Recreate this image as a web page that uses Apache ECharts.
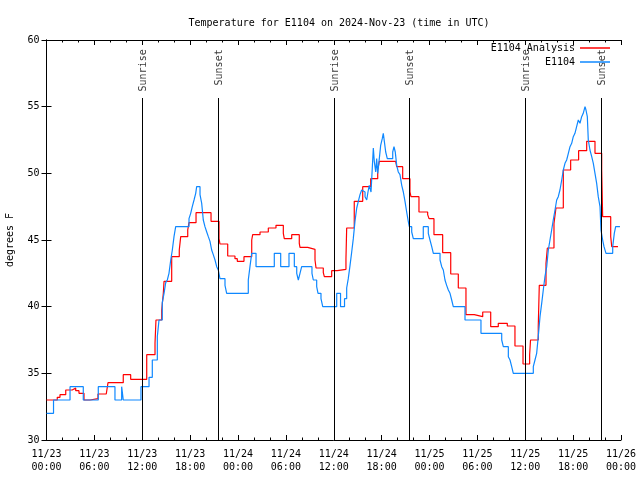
<!DOCTYPE html>
<html><head><meta charset="utf-8">
<script src="https://cdn.jsdelivr.net/npm/echarts@6/dist/echarts.min.js"></script>
<style>html,body{margin:0;padding:0;background:#fff}#c{width:640px;height:480px}</style>
</head><body><div id="c"></div>
<script>
// Hours since 2024-11-23 00:00 UTC and temperatures (degrees F)
const analysisHours = [0,1.35,1.69,2.41,3.23,3.66,4.07,4.70,5.45,6.45,7.49,7.71,9.62,10.55,12.56,13.60,13.72,14.44,14.64,14.73,15.69,16.64,16.82,17.70,17.86,18.74,20.62,21.62,21.74,22.71,23.62,23.91,24.75,25.72,25.84,26.76,27.80,28.76,29.68,29.80,30.73,31.68,31.77,32.74,33.65,33.78,34.69,34.82,35.74,36.44,37.53,37.62,38.57,39.63,40.63,41.51,41.71,43.76,43.89,44.64,45.55,45.68,46.68,47.77,47.94,48.56,49.65,50.66,51.61,52.57,53.61,54.67,55.67,56.62,57.75,58.71,59.72,60.55,60.66,61.63,61.76,62.60,62.77,63.60,63.85,64.77,65.69,66.69,67.70,68.74,69.58,69.70,70.71,70.84,71.62];
const analysisTemps = [33,33.2,33.4,33.75,33.9,33.7,33.5,33.0,33.1,33.45,33.6,34.3,34.9,34.55,36.4,37.25,39,39.75,41,41.9,43.75,44.25,45.25,45.75,46.3,47.05,46.4,45.1,44.7,43.8,43.6,43.4,43.75,45,45.4,45.6,45.9,46.1,45.5,45.1,45.4,44.75,44.45,44.3,43.5,42.9,42.55,42.25,42.7,42.8,43.6,45.9,47.9,49,49.6,50.25,50.9,50.75,50.5,49.6,48.6,48.25,47.1,46.9,46.6,45.4,44.05,42.45,41.4,39.4,39.25,39.6,38.5,38.75,38.55,37.05,35.7,36.4,37.5,38.5,41.6,43.25,44.4,46.25,47.4,50.25,51,51.7,52.4,51.5,50.25,46.75,45.25,44.5,44.5];

const obsHours = [0,0.88,2.95,4.61,6.49,8.58,9.42,9.62,11.84,12.85,13.26,13.89,14.10,14.51,14.73,14.94,15.14,15.35,15.57,15.77,15.98,16.19,17.86,18.07,18.27,18.49,18.70,18.82,19.24,19.45,19.65,19.86,20.08,20.28,20.49,20.70,20.90,21.12,21.33,21.53,21.74,22.37,22.58,25.29,25.50,25.72,26.26,28.55,29.35,30.39,31.06,31.36,31.56,31.77,31.98,33.27,33.44,33.86,34.03,34.40,34.62,36.37,36.85,37.35,37.62,37.82,38.04,38.25,38.45,38.66,38.88,39.08,39.29,39.50,39.70,39.92,40.13,40.29,40.45,40.67,40.83,40.96,41.08,41.26,41.38,41.51,41.71,41.88,42.08,42.21,42.34,42.51,42.71,43.39,43.55,43.71,43.89,44.09,44.30,44.52,44.72,44.93,45.14,45.34,45.47,45.77,45.97,47.22,47.85,48.06,48.28,48.48,49.32,49.53,49.73,49.94,50.15,50.36,50.57,50.78,50.98,52.45,54.45,57.05,57.25,57.88,58.09,58.30,58.50,61.01,61.22,61.43,61.63,61.85,62.06,62.26,62.47,62.69,62.89,63.10,63.31,63.51,63.73,63.94,64.14,64.35,64.57,64.77,64.98,65.19,65.40,65.61,65.82,66.02,66.23,66.44,66.65,66.86,67.07,67.27,67.49,67.61,67.78,67.90,68.11,68.33,68.53,68.74,68.95,69.15,69.37,69.49,69.70,69.87,70.12,70.96,71.16,71.33,71.87];
const obsTemps = [32,33,34,33,34,33,34,33,34,34.7,36,37.75,39,40.3,41,41.8,42,42.5,43.5,44.25,45.25,46,46.6,47,47.5,48,48.5,49,48.4,47.75,46.5,46,45.6,45.25,44.9,44.25,43.9,43.5,43,42.75,42.1,41.6,41,42,43,44,43,44,43,44,43,42.5,42,42.5,43,42.5,42,41.5,41,40.6,40,41,40,40.6,41.4,42.1,43.1,44.1,45.1,46.4,47.4,47.9,48.4,48.75,48.6,48.25,48,48.6,49.1,48.6,50.4,51.9,50.9,50.1,51.1,50,51.1,52.1,52.6,53,52.4,51.6,51.1,51.6,52,51.6,50.6,50.1,49.9,49.1,48.6,47.9,47.1,46.4,46,45.6,45.1,46,45.5,45,44.5,44,43.5,43,42.75,42,41.6,41.25,41,40.5,40,39,38,37.5,37,36.25,36,35.5,35,35.5,36,36.5,37.75,39.25,40.25,41.25,42.25,43,44.25,45,45.75,46.5,47.25,48,48.25,48.75,49.5,50.25,50.75,51,51.5,52,52.25,52.75,53,53.5,54,53.75,54.25,54.5,55,54.75,54.25,52.5,51.75,51.25,50.75,50,49.25,48.25,47.5,45.75,45,44.5,44,44.5,45.5,46,46];

const sunHours = [12.01, 21.58, 36.07, 45.47, 60.01, 69.53];
const sunNames = ['Sunrise','Sunset','Sunrise','Sunset','Sunrise','Sunset'];
const yTicks = [30,35,40,45,50,55,60];
const seriesNames = ['E1104 Analysis','E1104'];

const FONT = 'DejaVu Sans Mono';
const zip = (a,b) => a.map((v,i)=>[v,b[i]]);

function xLabel(h){
  const d = 23 + Math.floor(h/24);
  const hh = h % 24;
  return '11/' + d + '\n' + (hh<10?'0':'') + hh + ':00';
}

const chart = echarts.init(document.getElementById('c'), null, {renderer:'canvas'});
const axisLine = {show:true, lineStyle:{color:'#000', width:1}};
chart.setOption({
  animation:false,
  backgroundColor:'#fff',
  title:{text:'Temperature for E1104 on 2024-Nov-23 (time in UTC)', left:334, top:13, textAlign:'center',
    textStyle:{fontFamily:FONT, fontSize:10, fontWeight:'normal', color:'#000'}},
  legend:{orient:'vertical', right:25, top:37, align:'right', itemWidth:30, itemHeight:1.5, itemGap:2,
    icon:'rect',
    data:seriesNames, textStyle:{fontFamily:FONT, fontSize:10, color:'#000', lineHeight:12}, selectedMode:false},
  grid:{left:46.5, right:19, top:40, bottom:40, outerBoundsMode:'none', containLabel:false},
  xAxis:[{type:'value', min:0, max:72, interval:6, position:'bottom',
      axisLine, splitLine:{show:false},
      axisTick:{show:true, inside:true, length:5, lineStyle:{color:'#000'}},
      minorTick:{show:true, splitNumber:3, length:2.5, lineStyle:{color:'#000'}},
      axisLabel:{formatter:xLabel, fontFamily:FONT, fontSize:10, color:'#000', margin:8, lineHeight:13}},
    {type:'value', min:0, max:72, interval:6, position:'top',
      axisLine, splitLine:{show:false},
      axisTick:{show:true, inside:true, length:5, lineStyle:{color:'#000'}},
      minorTick:{show:true, splitNumber:3, length:2.5, lineStyle:{color:'#000'}},
      axisLabel:{show:false}}],
  yAxis:[{type:'value', min:yTicks[0], max:yTicks[yTicks.length-1], interval:5, position:'left',
      name:'degrees F', nameLocation:'middle', nameGap:31, nameRotate:90,
      nameTextStyle:{fontFamily:FONT, fontSize:10, color:'#000'},
      axisLine, splitLine:{show:false},
      axisTick:{show:true, inside:true, length:5, lineStyle:{color:'#000'}},
      axisLabel:{fontFamily:FONT, fontSize:10, color:'#000', margin:7}},
    {type:'value', min:yTicks[0], max:yTicks[yTicks.length-1], interval:5, position:'right',
      axisLine, splitLine:{show:false},
      axisTick:{show:true, inside:true, length:5, lineStyle:{color:'#000'}},
      axisLabel:{show:false}}],
  series:[
    {name:'sun', type:'scatter', symbolSize:0, silent:true, z:1,
      data: sunHours.map((h,i)=>({value:[h,59.3], name:sunNames[i]})),
      label:{show:true, formatter:p=>p.name, rotate:90, position:[0,0], align:'right', verticalAlign:'middle',
        fontFamily:FONT, fontSize:10, color:'#000', offset:[0,1]},
      markLine:{silent:true, symbol:['none','none'], label:{show:false},
        lineStyle:{color:'#000', width:1, type:'solid'},
        data: sunHours.map(h=>[{coord:[h,30]},{coord:[h,55.65]}])}},
    {name:seriesNames[0], type:'line', step:'end', showSymbol:false, symbol:'none', z:3,
      lineStyle:{color:'#ff0000', width:1.2}, itemStyle:{color:'#ff0000'},
      data:zip(analysisHours, analysisTemps)},
    {name:seriesNames[1], type:'line', step:'end', showSymbol:false, symbol:'none', z:4,
      lineStyle:{color:'#0f88ff', width:1.2}, itemStyle:{color:'#0f88ff'},
      data:zip(obsHours, obsTemps)}
  ]
});
</script></body></html>
